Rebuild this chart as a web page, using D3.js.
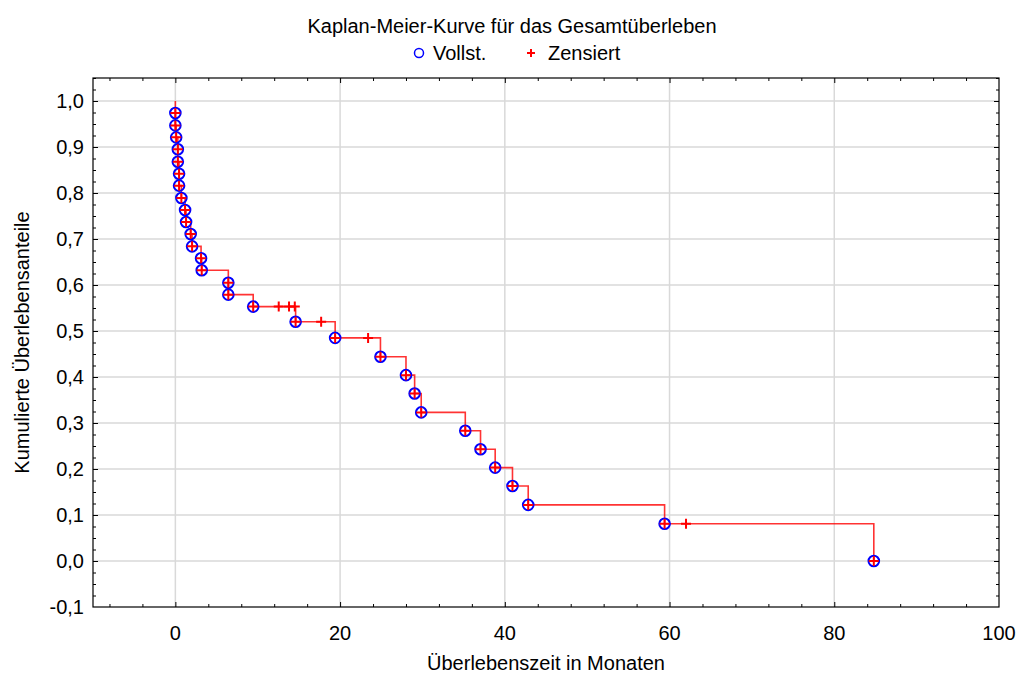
<!DOCTYPE html>
<html><head><meta charset="utf-8">
<script src="https://cdn.jsdelivr.net/npm/d3@7"></script>
<style>
html,body{margin:0;padding:0;background:#fff;}
text{font-family:"Liberation Sans",Arial,sans-serif;fill:#000;}
</style></head>
<body>
<svg id="chart" width="1018" height="675"></svg>
<script>
const titleText = "Kaplan-Meier-Kurve für das Gesamtüberleben";
const xLabel = "Überlebenszeit in Monaten";
const yLabel = "Kumulierte Überlebensanteile";
const legendLabels = ["Vollst.", "Zensiert"];

// complete (event) observations
const eventTimes = [0, 0, 0.1, 0.3, 0.3, 0.45, 0.45, 0.73, 1.18, 1.3, 1.86, 2.03, 3.12, 3.2, 6.43, 6.43, 9.45, 14.6, 19.4, 24.9, 28.0, 29.05, 29.85, 35.2, 37.05, 38.83, 40.93, 42.84, 59.4, 84.8];
const eventSurvival = [0.974, 0.947, 0.921, 0.895, 0.868, 0.842, 0.816, 0.789, 0.763, 0.737, 0.711, 0.684, 0.658, 0.632, 0.605, 0.579, 0.553, 0.520, 0.485, 0.444, 0.404, 0.364, 0.323, 0.283, 0.243, 0.203, 0.163, 0.122, 0.081, 0.0];
// censored observations
const censorTimes = [12.55, 13.8, 14.5, 17.7, 23.4, 62.0];
const censorSurvival = [0.553, 0.553, 0.553, 0.520, 0.485, 0.081];

const xTicks = [0, 20, 40, 60, 80, 100];
const yTicks = [-0.1, 0.0, 0.1, 0.2, 0.3, 0.4, 0.5, 0.6, 0.7, 0.8, 0.9, 1.0];

const svg = d3.select("#chart");
const L = 93, R = 999, T = 78, B = 607;
const x = d3.scaleLinear().domain([-10, 100]).range([L, R]);
const y = d3.scaleLinear().domain([-0.1, 1.05]).range([B, T]);
const FS = 20;

// grid
const grid = svg.append("g");
grid.selectAll(".gx").data(xTicks.filter(d => d < 100)).enter().append("line")
  .attr("x1", d => x(d)).attr("x2", d => x(d)).attr("y1", T).attr("y2", B)
  .attr("stroke", "#d9d9d9").attr("stroke-width", 1.5);
grid.selectAll(".gy").data(yTicks.filter(d => d > -0.1)).enter().append("line")
  .attr("y1", d => y(d)).attr("y2", d => y(d)).attr("x1", L).attr("x2", R)
  .attr("stroke", "#d9d9d9").attr("stroke-width", 1.5);

// axes with inward ticks on all sides
const xMinor = d3.range(-8, 100, 4);
const yMinor = d3.range(-0.075, 1.06, 0.025).map(v => +v.toFixed(3));
function isMajorX(d){ return Math.abs(d % 20) < 1e-9; }
function isMajorY(d){ return Math.abs(Math.round(d*10) - d*10) < 1e-6; }

const axB = d3.axisBottom(x).tickValues(xMinor).tickSizeOuter(0).tickFormat("");
const axT = d3.axisTop(x).tickValues(xMinor).tickSizeOuter(0).tickFormat("");
const axL = d3.axisLeft(y).tickValues(yMinor).tickSizeOuter(0).tickFormat("");
const axR = d3.axisRight(y).tickValues(yMinor).tickSizeOuter(0).tickFormat("");

function styleAxis(g, sign, major, horiz){
  g.select(".domain").remove();
  g.selectAll(".tick line").each(function(d){
    const len = major(d) ? 5 : 3;
    const s = d3.select(this).attr("stroke", "#000").attr("stroke-width", 1);
    if (horiz) s.attr("y2", sign*len).attr("x2", 0); else s.attr("x2", sign*len).attr("y2", 0);
  });
}
styleAxis(svg.append("g").attr("transform", `translate(0,${B})`).call(axB), -1, isMajorX, true);
styleAxis(svg.append("g").attr("transform", `translate(0,${T})`).call(axT), 1, isMajorX, true);
styleAxis(svg.append("g").attr("transform", `translate(${L},0)`).call(axL), 1, isMajorY, false);
styleAxis(svg.append("g").attr("transform", `translate(${R},0)`).call(axR), -1, isMajorY, false);

// frame
svg.append("rect").attr("x", L).attr("y", T).attr("width", R - L).attr("height", B - T)
  .attr("fill", "none").attr("stroke", "#000").attr("stroke-width", 1.2);

// tick labels
const fmt = d => d.toFixed(1).replace(".", ",");
svg.append("g").selectAll("text").data(yTicks).enter().append("text")
  .attr("x", L - 9).attr("y", d => y(d)).attr("dy", "0.36em")
  .attr("text-anchor", "end").attr("font-size", FS).text(fmt);
svg.append("g").selectAll("text").data(xTicks).enter().append("text")
  .attr("x", d => x(d)).attr("y", B + 33)
  .attr("text-anchor", "middle").attr("font-size", FS).text(d => d);

// axis titles
svg.append("text").attr("x", (L + R) / 2).attr("y", 670).attr("text-anchor", "middle")
  .attr("font-size", FS).text(xLabel);
svg.append("text").attr("transform", `translate(29,${(T + B) / 2}) rotate(-90)`)
  .attr("text-anchor", "middle").attr("font-size", FS).text(yLabel);

// title + legend
svg.append("text").attr("x", 512).attr("y", 33).attr("text-anchor", "middle")
  .attr("font-size", FS).text(titleText);
const lg = svg.append("g");
lg.append("circle").attr("cx", 419).attr("cy", 53).attr("r", 4.5)
  .attr("fill", "none").attr("stroke", "#0000ff").attr("stroke-width", 1.5);
lg.append("text").attr("x", 433).attr("y", 60).attr("font-size", FS).text(legendLabels[0]);
lg.append("path").attr("d", "M527,53H535M531,49V57").attr("stroke", "#ff0000").attr("stroke-width", 2);
lg.append("text").attr("x", 548).attr("y", 60).attr("font-size", FS).text(legendLabels[1]);

// step line
const pts = [{t: 0, s: 1, ord: 0}]
  .concat(eventTimes.map((t, i) => ({t, s: eventSurvival[i], ord: 2})))
  .concat(censorTimes.map((t, i) => ({t, s: censorSurvival[i], ord: 1})));
const sorted = pts.slice().sort((a, b) => a.t - b.t || a.ord - b.ord || b.s - a.s);
const line = d3.line().x(d => x(d.t)).y(d => y(d.s)).curve(d3.curveStepAfter);
svg.append("path").datum(sorted).attr("d", line)
  .attr("fill", "none").attr("stroke", "#ff0000").attr("stroke-opacity", 0.8).attr("stroke-width", 1.6);

// event markers
const ev = eventTimes.map((t, i) => ({t, s: eventSurvival[i]}));
svg.append("g").selectAll("circle").data(ev).enter().append("circle")
  .attr("cx", d => x(d.t)).attr("cy", d => y(d.s)).attr("r", 5.3)
  .attr("fill", "none").attr("stroke", "#0000ff").attr("stroke-width", 2);
const cr = ev.concat(censorTimes.map((t, i) => ({t, s: censorSurvival[i]})));
svg.append("g").selectAll("path").data(cr).enter().append("path")
  .attr("d", d => `M${x(d.t) - 5},${y(d.s)}H${x(d.t) + 5}M${x(d.t)},${y(d.s) - 5}V${y(d.s) + 5}`)
  .attr("stroke", "#ff0000").attr("stroke-width", 2);
</script>
</body></html>
